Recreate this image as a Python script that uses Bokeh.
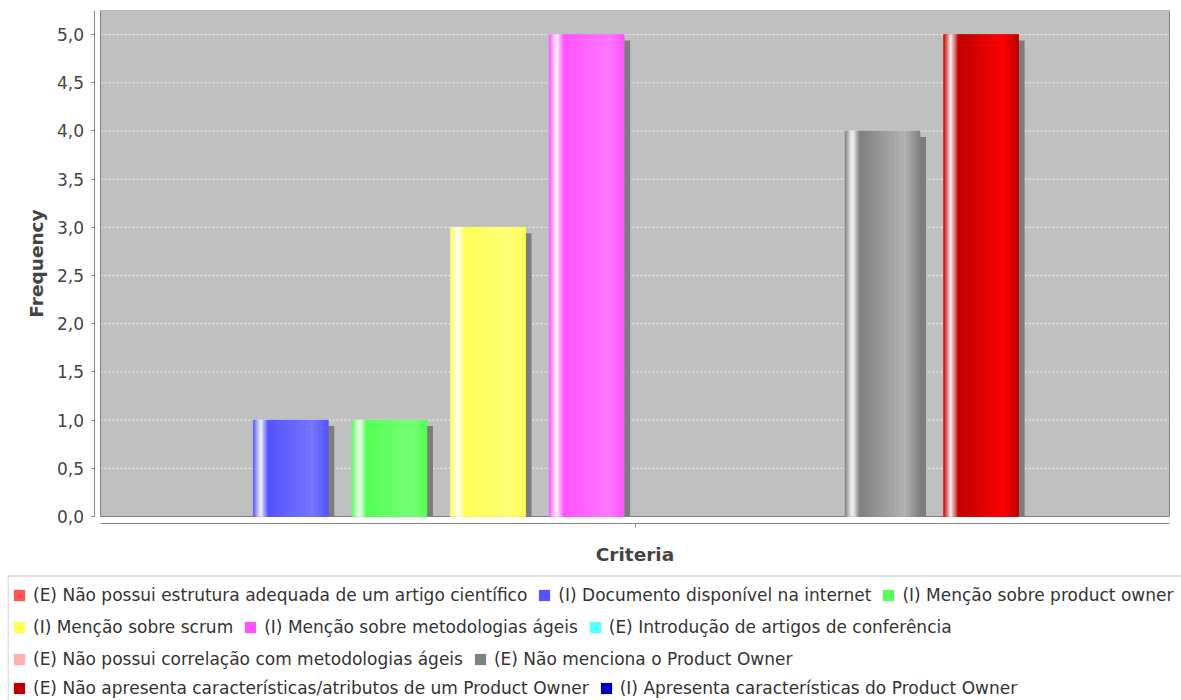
import numpy as np
from bokeh.plotting import figure
from bokeh.models import (LinearAxis, FixedTicker, Legend, LegendItem,
                          ColumnDataSource, Range1d, BoxAnnotation)
from bokeh.embed import file_html
from bokeh.resources import INLINE

# ---------------- data ----------------
series = [
    "(E) Não possui estrutura adequada de um artigo científico",
    "(I) Documento disponível na internet",
    "(I) Menção sobre product owner",
    "(I) Menção sobre scrum",
    "(I) Menção sobre metodologias ágeis",
    "(E) Introdução de artigos de conferência",
    "(E) Não possui correlação com metodologias ágeis",
    "(E) Não menciona o Product Owner",
    "(E) Não apresenta características/atributos de um Product Owner",
    "(I) Apresenta características do Product Owner",
]
frequency = [0, 1, 1, 3, 5, 0, 0, 4, 5, 0]
colors = ["#FF5555", "#5555FF", "#55FF55", "#FFFF55", "#FF55FF",
          "#55FFFF", "#FFAFAF", "#808080", "#C00000", "#0000C0"]
y_ticks = [0.0, 0.5, 1.0, 1.5, 2.0, 2.5, 3.0, 3.5, 4.0, 4.5, 5.0]
y_tick_labels = ["0,0", "0,5", "1,0", "1,5", "2,0", "2,5", "3,0", "3,5", "4,0", "4,5", "5,0"]
category_ticks = [4.5]
legend_rows = [[0, 1, 2], [3, 4, 5], [6, 7], [8, 9]]

FONT = "DejaVu Sans"

# ---------------- geometry (pixels) ----------------
W, H = 1181, 700
FRAME_L, FRAME_T = 7, 10            # whole drawing frame (plot + legend area)
PLOT_L, PLOT_R, PLOT_B = 100, 1169, 516   # grey plot area
AXIS_OFFSET = 6.5

# value-space extents of the grey plot area
x_lo, x_hi = -0.93, len(series) - 1 + 0.91
y_lo, y_hi = 0.0, 5.25
sx = (PLOT_R - PLOT_L) / (x_hi - x_lo)
sy = (PLOT_B - FRAME_T) / (y_hi - y_lo)
x_start = x_lo - (PLOT_L - FRAME_L) / sx
x_end = x_hi + (W - PLOT_R) / sx
y_start = y_lo - (H - PLOT_B) / sy
y_end = y_hi

def px_to_x(px):
    return x_start + (px - FRAME_L) / sx

def px_to_y(py):
    return y_start + (H - py) / sy

def hex2rgb(h):
    h = h.lstrip("#")
    return tuple(int(h[i:i + 2], 16) for i in (0, 2, 4))

def rgb2hex(c):
    return "#%02x%02x%02x" % tuple(int(round(max(0, min(255, v)))) for v in c)

def brighter(c):
    i = 3
    if all(v == 0 for v in c):
        return (int(i / 0.7),) * 3
    out = []
    for v in c:
        if 0 < v < i:
            v = i
        out.append(min(int(v / 0.7), 255) if v > 0 else 0)
    return tuple(out)

def lerp(a, b, t):
    return tuple(a[k] + (b[k] - a[k]) * t for k in range(3))

def grad(c0, c1, t):
    white = (255, 255, 255)
    if t < 0.1:
        return lerp(c0, white, t / 0.1)
    if t < 0.2:
        return lerp(white, c0, (t - 0.1) / 0.1)
    if t < 0.8:
        return lerp(c0, c1, (t - 0.2) / 0.6)
    return lerp(c1, c0, (t - 0.8) / 0.2)

# ---------------- figure ----------------
n = len(series)
xs = list(range(n))
bar_w = 0.76

p = figure(width=W, height=H,
           x_range=Range1d(x_start, x_end), y_range=Range1d(y_start, y_end),
           x_axis_location=None, y_axis_location=None,
           toolbar_location=None, output_backend="svg",
           min_border_left=FRAME_L, min_border_right=0, min_border_top=FRAME_T,
           min_border_bottom=0,
           background_fill_color="white", border_fill_color="white",
           outline_line_color=None)
for g in p.grid:
    g.visible = False

# grey plot area
p.quad(left=[x_lo], right=[x_hi], bottom=[y_lo], top=[y_hi],
       fill_color="#C0C0C0", line_color=None)

# dashed horizontal grid lines
p.segment(x0=[x_lo] * len(y_ticks), x1=[x_hi] * len(y_ticks), y0=y_ticks, y1=y_ticks,
          line_color="#f2f2f2", line_dash="2 2", line_width=1)

# plot area border
p.quad(left=[x_lo], right=[x_hi], bottom=[y_lo], top=[y_hi],
       fill_color=None, line_color="#808080", line_width=1)

# axes (offset from the plot area as in the original)
yax = LinearAxis(ticker=FixedTicker(ticks=y_ticks), bounds=(y_lo, y_hi),
                 fixed_location=x_lo - AXIS_OFFSET / sx,
                 major_label_overrides={t: l for t, l in zip(y_ticks, y_tick_labels)},
                 axis_label="Frequency", axis_label_text_font=FONT,
                 axis_label_text_font_style="bold", axis_label_text_font_size="18.5px",
                 axis_label_text_color="#444444", axis_label_standoff=7,
                 major_label_text_font=FONT, major_label_text_font_size="17px",
                 major_label_text_color="#444444", major_label_standoff=7,
                 axis_line_color="#888888", major_tick_line_color="#888888",
                 major_tick_out=3, major_tick_in=0, minor_tick_line_color=None)
p.add_layout(yax, "left")

xax = LinearAxis(ticker=FixedTicker(ticks=category_ticks), bounds=(x_lo, x_hi),
                 fixed_location=y_lo - AXIS_OFFSET / sy,
                 major_label_overrides={t: "" for t in category_ticks},
                 axis_label="Criteria", axis_label_text_font=FONT,
                 axis_label_text_font_style="bold", axis_label_text_font_size="18.5px",
                 axis_label_text_color="#444444", axis_label_standoff=16,
                 major_label_text_font_size="0px", major_label_standoff=0,
                 axis_line_color="#888888", major_tick_line_color="#888888",
                 major_tick_out=4, major_tick_in=0, minor_tick_line_color=None)
p.add_layout(xax, "below")

# shadows
dx = 6 / sx
dy = 6 / sy
sh = dict(left=[], right=[], top=[], bottom=[])
for x, v in zip(xs, frequency):
    if v > 0:
        sh["left"].append(x - bar_w / 2 + dx)
        sh["right"].append(x + bar_w / 2 + dx)
        sh["top"].append(v - dy)
        sh["bottom"].append(y_lo)
p.quad(source=ColumnDataSource(sh), left="left", right="right", top="top", bottom="bottom",
       fill_color="#7c7c7c", line_color=None)

# base bars (also used by the legend)
bars = p.vbar(x=xs, top=frequency, width=bar_w, bottom=y_lo, fill_color=colors, line_color=None)

# gradient strips over the bars
N = 60
st = dict(left=[], right=[], top=[], bottom=[], color=[])
for x, v, c in zip(xs, frequency, colors):
    if v <= 0:
        continue
    c0 = hex2rgb(c)
    c1 = brighter(c0)
    left = x - bar_w / 2
    sw = bar_w / N
    for k in range(N):
        t = (k + 0.5) / N
        st["left"].append(left + k * sw)
        st["right"].append(left + (k + 1) * sw)
        st["top"].append(v)
        st["bottom"].append(y_lo)
        st["color"].append(rgb2hex(grad(c0, c1, t)))
p.quad(source=ColumnDataSource(st), left="left", right="right", top="top", bottom="bottom",
       fill_color="color", line_color="color", line_width=0.5)

# ---------------- legend ----------------
box = BoxAnnotation(left=px_to_x(7.5), right=x_end + 1, top=px_to_y(575.5), bottom=y_start - 1,
                    fill_alpha=0, line_color="#333333", line_width=1)
p.add_layout(box)

row_y = [95, 63, 31, 2]
for row, yv in zip(legend_rows, row_y):
    items = [LegendItem(label=series[i], renderers=[bars], index=i) for i in row]
    leg = Legend(items=items, orientation="horizontal", location=(5, yv),
                 padding=0, margin=0, spacing=10, label_standoff=7,
                 glyph_width=14, glyph_height=14, label_height=17,
                 label_text_font=FONT, label_text_font_size="17px",
                 label_text_color="#333333", border_line_color=None,
                 background_fill_alpha=0)
    p.add_layout(leg, "center")

open("out.html", "w").write(file_html(p, INLINE))
